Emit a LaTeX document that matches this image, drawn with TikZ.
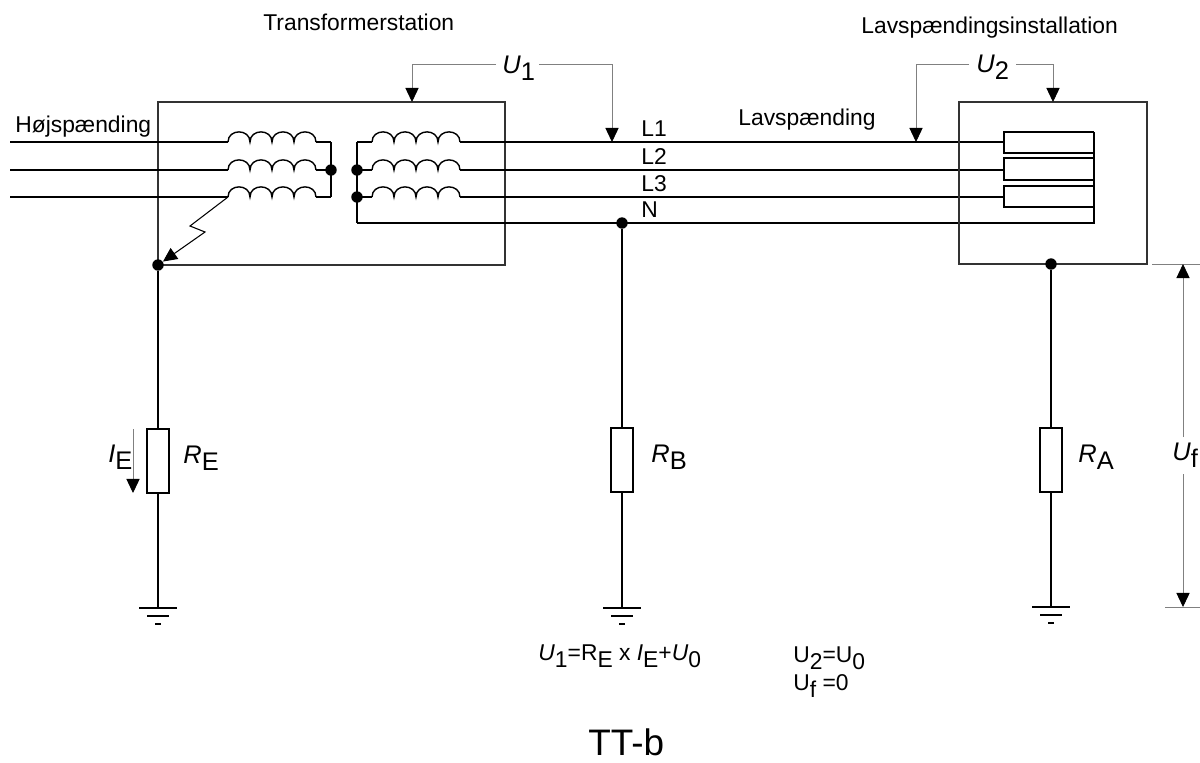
\documentclass[tikz,border=0pt]{standalone}
\usepackage{fontspec}
\setmainfont{Liberation Sans}
\usetikzlibrary{arrows.meta}

\newcommand{\isub}[2]{\textit{#1}\raisebox{-4.5pt}{#2}}
\newcommand{\usub}[2]{#1\raisebox{-4.5pt}{#2}}
\newcommand{\coil}[2]{%
  \draw[wire] (#1,#2) \foreach \k in {0,...,3}{
    .. controls ({#1+22*\k},{#2-13.5}) and ({#1+22*\k+22},{#2-13.5}) .. ({#1+22*\k+22},#2)};}
\newcommand{\earth}[1]{%
  \draw[wire] (#1) ++(-19,0) -- ++(38,0);
  \draw[wire] (#1) ++(-11,8) -- ++(22,0);
  \draw[wire] (#1) ++(-3,16) -- ++(6,0);}

\begin{document}
\begin{tikzpicture}[x=0.02cm,y=-0.02cm,
  wire/.style={line width=0.8pt},
  meas/.style={line width=0.5pt,draw=black!50},
  tip/.style={-{Triangle[length=8pt,width=7.5pt,black]}},
  res/.style={draw,line width=0.8pt,minimum width=0.44cm,minimum height=1.28cm,inner sep=0pt},
  dot/.style={circle,fill,inner sep=0pt,minimum size=6.5pt},
  lbl/.style={font=\fontsize{13pt}{15pt}\selectfont,inner sep=0pt},
  sym/.style={font=\fontsize{14.5pt}{17pt}\selectfont,inner sep=0pt}]
  \useasboundingbox (0,0) rectangle (1200,762);

  % transformer station
  \draw[wire,black!80] (158,102) rectangle (505,265);
  \foreach \y in {142,170,197}{
    \draw[wire] (10,\y) -- (228,\y);
    \coil{228}{\y}
    \draw[wire] (316,\y) -- (331,\y);
    \draw[wire] (357,\y) -- (372,\y);
    \coil{372}{\y}
  }
  \draw[wire] (331,142) -- (331,197);
  \draw[wire] (357,142) -- (357,223);

  % low voltage lines and installation
  \draw[wire] (460,142) -- (1004,142);
  \draw[wire] (460,170) -- (1004,170);
  \draw[wire] (460,197) -- (1004,197);
  \draw[wire] (357,223) -- (1094,223) -- (1094,132);
  \foreach \t/\b in {132/153,158/180,186/207}
    \draw[wire] (1094,\b) -- (1004,\b) -- (1004,\t) -- (1094,\t);
  \draw[wire,black!80] (959,102) rectangle (1147,264);

  % dots
  \node[dot] (P) at (331,170) {};
  \node[dot] (S2) at (357,170) {};
  \node[dot] (S3) at (357,197) {};
  \node[dot] (PE) at (158,265) {};
  \node[dot] (NB) at (622,223) {};
  \node[dot] (PA) at (1051,264) {};

  % earthing
  \node[res] (RE) at (158,461) {};
  \node[res] (RB) at (622,460) {};
  \node[res] (RA) at (1051,460) {};
  \coordinate (gE) at (158,608);
  \coordinate (gB) at (622,608);
  \coordinate (gA) at (1051,607);
  \draw[wire] (PE) -- (RE) -- (gE);
  \draw[wire] (NB) -- (RB) -- (gB);
  \draw[wire] (PA) -- (RA) -- (gA);
  \earth{gE}
  \earth{gB}
  \earth{gA}

  % fault
  \draw[line width=0.6pt,tip] (228,197) -- (190,226) -- (205,232) -- (PE);

  % voltages
  \draw[meas,tip] (496,64) -| (412,102);
  \draw[meas,tip] (539,64) -| (612,142);
  \node[sym,anchor=base west] (U1) at (502,73) {\isub{U}{1}};
  \draw[meas,tip] (969,64) -| (916,142);
  \draw[meas,tip] (1016,64) -| (1053,102);
  \node[sym,anchor=base west] (U2) at (976,72) {\isub{U}{2}};
  \draw[meas,tip] (133,429) -- (133,493);
  \node[sym,anchor=base west] (IE) at (108,462) {\isub{I}{E}};
  \draw[meas] (1152,264) -- (1200,264);
  \draw[meas] (1165,607) -- (1200,607);
  \draw[meas,tip] (1183,437) -- (1183,264);
  \draw[meas,tip] (1183,474) -- (1183,607);
  \node[sym,anchor=base west] (Uf) at (1172,460) {\isub{U}{f}};

  % labels
  \node[sym,anchor=base west] (RElbl) at (183,463) {\isub{R}{E}};
  \node[sym,anchor=base west] (RBlbl) at (651,462) {\isub{R}{B}};
  \node[sym,anchor=base west] (RAlbl) at (1078,462) {\isub{R}{A}};
  \node[lbl,anchor=base west] (trafo) at (263,30) {Transformerstation};
  \node[lbl,anchor=base west] (inst) at (861,33) {Lavspændingsinstallation};
  \node[lbl,anchor=base west] (hv) at (15,132) {Højspænding};
  \node[lbl,anchor=base west] (lv) at (738,125) {Lavspænding};
  \node[lbl,anchor=base west] (L1) at (641,136) {L1};
  \node[lbl,anchor=base west] (L2) at (641,164) {L2};
  \node[lbl,anchor=base west] (L3) at (641,191) {L3};
  \node[lbl,anchor=base west] (N) at (641,217) {N};
  \node[lbl,anchor=base west] (eq1) at (538,660)
    {\isub{U}{1}=\usub{R}{E} x \isub{I}{E}+\isub{U}{0}};
  \node[lbl,anchor=base west] (eq2) at (793,662) {\usub{U}{2}=\usub{U}{0}};
  \node[lbl,anchor=base west] (eq3) at (793,690) {\usub{U}{f} =0};
  \node[anchor=base west,inner sep=0pt,font=\fontsize{21pt}{25pt}\selectfont] (title) at (588,755) {TT-b};
\end{tikzpicture}
\end{document}
